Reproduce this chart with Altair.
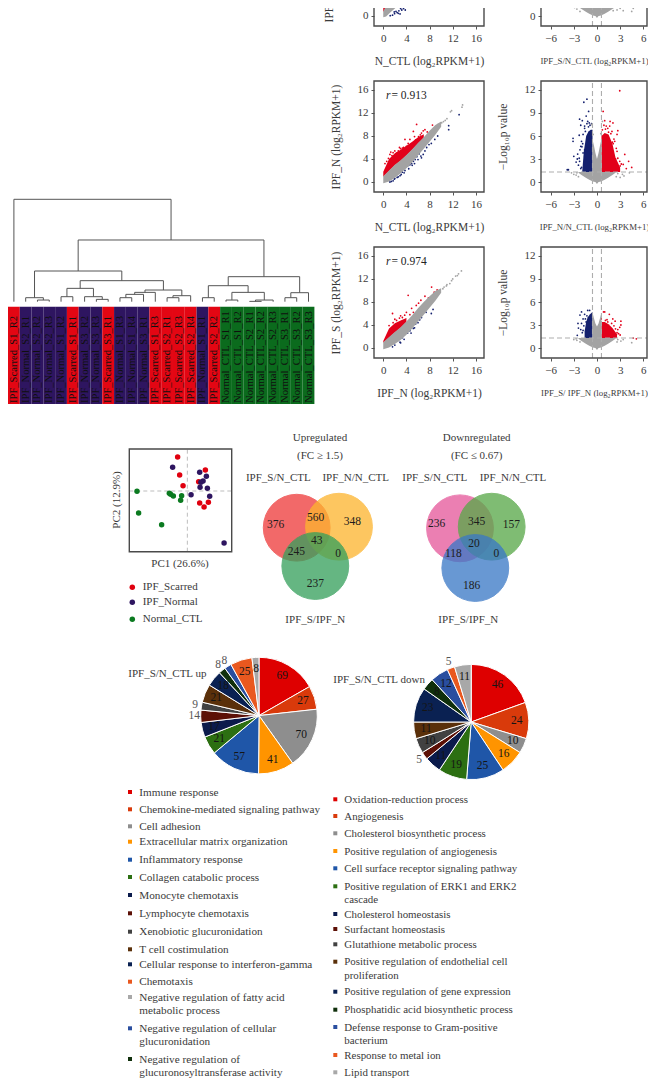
import math
import altair as alt
import pandas as pd

W, H = 640, 1071
FONT = "Liberation Serif"
INK = "#3a3a3a"

# ---------- dendrogram and sample strip ----------
sample_labels = ["IPF_Scarred_S1_R2", "IPF_Normal_S2_R1", "IPF_Normal_S2_R2", "IPF_Normal_S2_R3", "IPF_Normal_S1_R2",
                 "IPF_Scarred_S1_R1", "IPF_Normal_S3_R2", "IPF_Normal_S3_R3", "IPF_Scarred_S3_R1", "IPF_Normal_S1_R3",
                 "IPF_Normal_S1_R4", "IPF_Normal_S3_R1", "IPF_Scarred_S1_R3", "IPF_Scarred_S2_R1", "IPF_Scarred_S2_R3",
                 "IPF_Scarred_S2_R4", "IPF_Normal_S1_R1", "IPF_Scarred_S2_R2", "Normal_CTL_S1_R1", "Normal_CTL_S1_R2",
                 "Normal_CTL_S2_R1", "Normal_CTL_S2_R2", "Normal_CTL_S2_R3", "Normal_CTL_S3_R1", "Normal_CTL_S3_R2",
                 "Normal_CTL_S3_R3"]
group_names = ["IPF_Scarred", "IPF_Normal", "Normal_CTL"]
group_colors = ["#e30613", "#2e1560", "#0b6b1d"]
# merge height, left child, right child (leaves are sample positions)
tree = (307, 0, (185,
        (92, (12, 1, (5, 2, 3)),
             (63, (40, (15, 4, 5), (15, 6, (7, 7, 8))),
                  (35, (28, (22, (12, 9, 10), 11), 12), (18, (12, 13, 14), 15)))),
        (75, (48, (12, 16, 17), (28, (5, 18, 19), (5, (1, 20, 21), 22))),
             (27, (12, 23, 24), 25))))


def walk(node, segs):
    if isinstance(node, int):
        return float(node), 0
    h, a, b = node
    xa, ha = walk(a, segs)
    xb, hb = walk(b, segs)
    segs += [(xa, xb, h, h), (xa, xa, ha, h), (xb, xb, hb, h)]
    return (xa + xb) / 2, h


dendro = []
walk(tree, dendro)
dendro_df = pd.DataFrame(dendro, columns=["x0", "x1", "y0", "y1"])
leaf_scale = alt.Scale(domain=[0, 25], range=[5.9, 300.5], nice=False, zero=False)
height_scale = alt.Scale(domain=[0, 307], range=[293.7, 191.3], nice=False, zero=False)
dendro_chart = alt.Chart(dendro_df).mark_rule(color="#555555", strokeWidth=1).encode(
    x=alt.X("x0:Q", scale=leaf_scale, axis=None), x2="x1:Q",
    y=alt.Y("y0:Q", scale=height_scale, axis=None), y2="y1:Q")

strip_df = pd.DataFrame({"label": sample_labels, "group": [s[:-6] for s in sample_labels]})
band = alt.Scale(type="band", domain=sample_labels, range=[0, 306.4], paddingInner=0, paddingOuter=0)
strip_rect = alt.Chart(strip_df).mark_rect().encode(
    x=alt.X("label:N", scale=band, axis=None, sort=sample_labels),
    y=alt.value(306.7 - 8), y2=alt.value(404 - 8),
    color=alt.Color("group:N", scale=alt.Scale(domain=group_names, range=group_colors), legend=None))
strip_text = alt.Chart(strip_df).mark_text(angle=270, align="left", baseline="middle", font=FONT, fontSize=10.6,
                                           color="#10100f").encode(
    x=alt.X("label:N", scale=band, axis=None, sort=sample_labels), y=alt.value(403 - 8), text="label:N")
strip_panel = alt.layer(strip_rect, strip_text)

# ---------- scatter panels ----------
sc_x = [0, 1, 2, 3, 4, 5, 6, 7, 8, 9, 10]

row1_sc = dict(
    x=[0, 0.5, 1.2, 2, 3.2, 4.5], low=[-0.2, -0.1, 0.6, 1.3, 2.5, 3.8], up=[0.8, 1.8, 2.8, 3.6, 4.9, 6.0],
    red_x=[0, 0.7, 1.2, 2, 3.2, 4.5], red_up=[3.5, 4.5, 5.5, 6.2, 7.2, 8.0],
    red_px=[0.1, 0.2], red_py=[3.0, 3.2],
    blue_px=[1.95, 2.6, 3.2, 4.0, 5.0, 4.6, 3.8, 2.9, 3.5, 1.2, 1.6, 2.2, 4.3, 3.0, 2.4, 3.4, 1.9, 2.7, 4.1],
    blue_py=[0.4, 0.47, 1.04, 1.6, 2.2, 1.9, 1.04, 0.35, 1.3, 0.05, 0.15, 0.8, 2.0, 1.3, 0.6, 1.6, 0.7, 0.9, 2.2],
    gray_px=[], gray_py=[])
row2_sc = dict(
    x=sc_x, low=[-0.2, 0.1, 0.7, 1.5, 2.4, 3.4, 4.6, 5.8, 7.0, 8.2, 9.6], up=[1.0, 2.0, 3.0, 3.8, 4.7, 5.7, 6.8, 7.8, 8.9, 9.9, 10.5],
    red_x=[0, 1, 2, 3, 4, 5, 6, 7], red_up=[1.8, 4.0, 5.0, 5.6, 6.3, 7.0, 7.8, 8.3],
    red_px=[5.76, 6.6, 5.2, 3.75, 7.2, 6.9, 1.7, 2.0, 1.15, 0.3, 4.9, 3.5, 2.6, 3.0, 0.9, 1.5, 2.3, 4.3, 4.0, 5.6, 6.1, 7.6, 8.5, 0.6, 1.3, 2.8, 3.3, 4.6, 5.4, 6.4],
    red_py=[10.0, 8.5, 8.8, 7.4, 9.1, 8.9, 5.1, 5.4, 4.8, 3.2, 6.5, 6.0, 5.4, 5.8, 4.1, 4.6, 5.0, 6.7, 6.2, 7.3, 7.9, 8.7, 9.9, 3.6, 5.2, 6.0, 5.9, 7.4, 7.9, 8.2],
    blue_px=[13.1, 11.3, 11.3, 8.9, 7.5, 6.9, 6.6, 5.2, 4.6, 3.75, 2.9, 1.7, 1.15, 5.8, 6.2, 4.9, 4.2, 3.3, 2.4, 2.0, 7.9, 8.3, 9.4, 5.5, 1.4, 1.9, 2.6, 3.1, 3.6, 4.4, 5.0, 5.4, 6.0, 6.5, 7.2],
    blue_py=[11.7, 9.8, 9.1, 7.4, 6.0, 4.8, 4.2, 3.6, 3.0, 2.0, 1.1, 0.2, 0.0, 4.4, 4.9, 3.2, 2.8, 1.7, 0.8, 0.6, 6.5, 6.7, 8.0, 3.9, 0.1, 0.5, 0.9, 1.3, 1.6, 2.3, 2.9, 3.2, 3.9, 4.5, 5.4],
    gray_px=[13.7, 13.6, 11.8, 11.6, 10.7, 10.1, 10.4, 11.0, 9.5],
    gray_py=[13.4, 13.0, 12.4, 12.2, 10.7, 10.3, 10.5, 11.0, 10.0])
row3_sc = dict(
    x=sc_x, low=[-0.2, 0.1, 0.7, 1.4, 2.3, 3.4, 4.6, 5.8, 7.0, 8.2, 9.6], up=[1.0, 1.9, 2.8, 3.6, 4.6, 5.7, 6.9, 8.0, 9.0, 9.9, 10.4],
    red_x=[0, 1, 2, 3, 4], red_up=[1.2, 3.4, 4.3, 4.8, 5.2],
    red_px=[4.3, 7.2, 8.35, 8.8, 9.3, 6.5, 5.7, 4.9, 4.0, 3.3, 1.6, 2.3, 2.8, 3.7, 5.2, 1.7, 1.0, 2.0, 6.1, 7.8, 4.6, 3.0],
    red_py=[9.15, 9.0, 10.6, 9.7, 10.1, 8.3, 7.4, 6.9, 6.2, 5.3, 6.0, 4.8, 5.2, 5.7, 6.2, 4.4, 3.9, 5.0, 7.8, 8.7, 5.8, 5.6],
    blue_px=[8.6, 8.3, 6.3, 5.2, 3.75, 2.9, 2.0, 4.6, 5.6, 6.6, 3.3, 4.2, 7.4, 2.5, 1.6, 3.0, 3.6, 4.8, 5.4, 6.0],
    blue_py=[6.7, 6.0, 4.9, 3.4, 2.5, 1.0, 0.5, 3.0, 4.2, 5.3, 1.8, 2.6, 6.2, 1.3, 0.2, 0.9, 1.5, 2.6, 3.5, 4.4],
    gray_px=[10.5, 11.0, 11.5, 12.0, 12.5, 13.0, 13.5, 10.3, 11.8, 12.8, 10.9],
    gray_py=[10.6, 11.0, 11.2, 12.0, 12.5, 12.9, 13.4, 10.3, 11.7, 12.6, 10.8])

vo_gray_x = [-2.4, -2, -1.5, -1, -0.59, -0.58, -0.4, -0.2, 0, 0.2, 0.4, 0.58, 0.59, 1, 1.5, 2, 2.4]
row1_vo = dict(
    gx=vo_gray_x, glow=[1.2, 0.9, 0.6, 0.3, 0.1, 0.1, 0.05, 0, -0.25, 0, 0.05, 0.1, 0.1, 0.3, 0.6, 0.9, 1.2],
    gup=[1.3, 1.3, 1.3, 1.3, 1.3, 4.0, 3.4, 3.0, 2.8, 3.0, 3.4, 4.0, 1.3, 1.3, 1.3, 1.3, 1.3],
    bx=[-1.8, -1.3, -0.9, -0.58], bup=[1.6, 2.4, 3.0, 3.4], rx=[0.58, 1.0, 1.5, 2.1], rup=[3.4, 3.0, 2.4, 1.7],
    blue_px=[-4.6, -4.3, -3.0, -2.6], blue_py=[2.3, 2.3, 2.5, 2.0], red_px=[2.6, 3.2, 3.4], red_py=[1.8, 2.1, 2.2],
    gray_px=[-2.6, -2.2, 2.1, 2.6, 3.4, 4.5, 4.7, 3.0, -2.9, -2.5, 2.9], gray_py=[0.9, 0.6, 0.7, 0.8, 0.7, 0.6, 1.0, 1.0, 1.1, 1.2, 1.2])
row2_vo = dict(
    gx=vo_gray_x, glow=[1.2, 0.9, 0.6, 0.3, 0.1, 0.1, 0.05, 0, -0.25, 0, 0.05, 0.1, 0.1, 0.3, 0.6, 0.9, 1.2],
    gup=[1.3, 1.3, 1.3, 1.3, 1.3, 5.5, 4.8, 3.8, 3.0, 3.8, 4.8, 5.5, 1.3, 1.3, 1.3, 1.3, 1.3],
    bx=[-1.9, -1.7, -1.4, -1.1, -0.8, -0.58], bup=[1.5, 4.0, 6.0, 6.6, 6.8, 6.8], rx=[0.58, 1.0, 1.5, 2.0, 2.4, 3.0], rup=[6.0, 6.4, 6.2, 5.0, 3.2, 1.9],
    blue_px=[-1.3, -1.7, -1.08, -1.4, -2.25, -1.9, -1.2, -2.1, -1.6, -3.1, -3.1, -2.3, -1.8, -2.0, -2.1, -2.5, -2.55, -3.0, -2.0, -3.85, -3.7, -2.25, -1.7, -2.1, -1.6, -1.8, -1.5, -1.5, -1.1, -0.9, -2.2, -2.4, -1.95, -2.7, -1.85, -2.3, -1.6, -1.3, -1.0, -0.7],
    blue_py=[10.8, 10.4, 9.2, 8.6, 8.2, 8.0, 7.9, 7.4, 7.3, 5.7, 5.3, 6.1, 6.2, 5.3, 4.65, 3.65, 3.0, 3.35, 1.9, 1.6, 1.6, 2.7, 2.2, 1.75, 4.2, 3.8, 2.9, 6.6, 7.2, 7.4, 4.2, 2.2, 4.6, 2.6, 5.0, 3.1, 7.0, 7.6, 7.7, 7.6],
    red_px=[2.95, 0.8, 1.0, 1.7, 2.07, 1.2, 2.7, 2.6, 1.94, 2.3, 2.5, 2.07, 3.6, 2.7, 4.1, 3.15, 4.5, 3.8, 2.5, 2.95, 1.65, 1.4, 0.9, 2.1, 2.4, 1.8, 2.2, 2.6, 3.0, 3.4, 1.1, 0.7, 1.5, 2.0],
    red_py=[11.9, 9.2, 8.0, 7.9, 7.7, 7.3, 6.7, 6.2, 6.6, 5.3, 4.4, 3.8, 3.6, 3.1, 2.7, 2.35, 1.9, 1.75, 1.8, 2.7, 7.3, 7.0, 7.4, 5.0, 3.0, 6.3, 5.6, 4.0, 2.1, 2.3, 6.9, 6.8, 6.5, 5.2],
    gray_px=[-3.0, -2.7, -2.4, 2.5, 3.0, 3.3, 4.2, -0.5, 0.5, -0.7, 0.7, -2.6, 2.7, -3.3, 3.5], gray_py=[1.0, 0.9, 0.7, 0.7, 0.6, 1.0, 1.2, 6.2, 6.3, 7.5, 7.9, 1.2, 1.1, 1.2, 0.8])
row3_vo = dict(
    gx=vo_gray_x, glow=[1.2, 0.9, 0.6, 0.3, 0.1, 0.1, 0.05, 0, -0.25, 0, 0.05, 0.1, 0.1, 0.3, 0.6, 0.9, 1.2],
    gup=[1.3, 1.3, 1.3, 1.3, 1.3, 4.6, 3.9, 3.2, 2.8, 3.2, 3.9, 4.6, 1.3, 1.3, 1.3, 1.3, 1.3],
    bx=[-1.6, -1.4, -1.2, -0.9, -0.58], bup=[2.2, 3.4, 4.0, 4.4, 4.7], rx=[0.58, 1.0, 1.5, 2.0, 2.6], rup=[3.4, 3.4, 3.1, 2.6, 1.8],
    blue_px=[-2.0, -2.2, -2.46, -2.0, -2.55, -1.8, -1.6, -0.95, -1.2, -1.4, -2.1, -1.8, -1.7, -2.4, -1.9, -1.5, -1.3],
    blue_py=[4.7, 4.3, 3.2, 3.2, 1.65, 3.8, 4.4, 4.9, 4.9, 3.4, 2.4, 2.3, 2.9, 2.6, 2.0, 3.8, 4.2],
    red_px=[0.85, 1.0, 1.6, 2.05, 2.35, 3.1, 3.1, 2.95, 2.7, 4.7, 5.1, 2.8, 0.55, 1.3, 2.6, 2.2, 3.0, 1.9, 2.4, 1.4, 1.1],
    red_py=[4.7, 4.7, 4.4, 3.8, 3.5, 3.5, 3.0, 2.7, 2.4, 1.3, 1.2, 1.87, 3.8, 3.7, 2.0, 2.9, 1.7, 3.2, 2.5, 3.4, 3.6],
    gray_px=[-2.6, -2.2, -1.7, 2.6, 3.1, 4.5, -3.0, -2.7, 2.7, 3.4], gray_py=[1.0, 0.8, 1.0, 0.8, 0.9, 0.7, 1.1, 1.2, 1.1, 1.1])

RED, BLUE, GRAY = "#e2001a", "#14206e", "#a3a3a3"
LOG2 = "(log₂RPKM+1)"


def axis(orient, orient_offset, values, title, padding, title_size=11.5, label_expr=None):
    kw = dict(orient=orient, values=values, title=title, grid=False, domain=False, offset=orient_offset, tickSize=3, tickColor="#555555",
              labelFont=FONT, labelFontSize=11, labelColor=INK, labelPadding=3, titleFont=FONT,
              titleFontSize=title_size, titleFontWeight="normal", titleColor=INK, titlePadding=padding, labelOverlap=False)
    if label_expr:
        kw["labelExpr"] = label_expr
    return alt.Axis(**kw)


def points(xs, ys, color, sx, sy):
    return alt.Chart(pd.DataFrame({"x": xs, "y": ys})).mark_circle(size=3.2, color=color, opacity=1).encode(
        x=alt.X("x:Q", scale=sx, axis=None), y=alt.Y("y:Q", scale=sy, axis=None))


def band_area(xs, lo, hi, color, sx, sy):
    return alt.Chart(pd.DataFrame({"x": xs, "lo": lo, "hi": hi})).mark_area(color=color, orient="vertical", opacity=1).encode(
        x=alt.X("x:Q", scale=sx, axis=None), y=alt.Y("lo:Q", scale=sy, axis=None), y2="hi:Q")


def frame(left, right, top, bottom):
    return alt.Chart(pd.DataFrame({"a": [0]})).mark_rect(fillOpacity=0, stroke="#4a4a4a", strokeWidth=1.4).encode(
        x=alt.value(left - 8), x2=alt.value(right - 8), y=alt.value(top - 8), y2=alt.value(bottom - 8))


def scatter_panel(d, top, xtitle, ytitle, r_text, y_ticks):
    bottom = top + 111
    left, right = 374, 484
    sx = alt.Scale(domain=[-1.6, 17.4], range=[left - 8, right - 8], nice=False, zero=False)
    sy = alt.Scale(domain=[-1.74, 17.56], range=[bottom - 8, top - 8], nice=False, zero=False)
    base = alt.Chart(pd.DataFrame({"x": [0, 16], "y": [0, 16]})).mark_point(opacity=0).encode(
        x=alt.X("x:Q", scale=sx, axis=axis("bottom", bottom - 8 - H, [0, 4, 8, 12, 16], xtitle, 12)),
        y=alt.Y("y:Q", scale=sy, axis=axis("left", -(left - 8), y_ticks, ytitle, 16 if len(y_ticks) > 1 else 28)))
    floor = d["up"][:len(d["red_x"])]
    layers = [base,
              points(d["blue_px"], d["blue_py"], BLUE, sx, sy),
              band_area(d["red_x"], [u - 0.1 for u in floor], d["red_up"], RED, sx, sy),
              points(d["red_px"], d["red_py"], RED, sx, sy),
              band_area(d["x"], d["low"], d["up"], GRAY, sx, sy),
              points(d["gray_px"], d["gray_py"], GRAY, sx, sy),
              frame(left, right, top, bottom)]
    if r_text:
        layers.append(alt.Chart(pd.DataFrame({"t": ["r"]})).mark_text(font=FONT, fontSize=11.5, fontStyle="italic", color="#222222", align="left").encode(
            x=alt.value(386 - 8), y=alt.value(top + 15 - 8), text="t:N"))
        layers.append(alt.Chart(pd.DataFrame({"t": ["= " + r_text]})).mark_text(font=FONT, fontSize=11.5, color="#222222", align="left").encode(
            x=alt.value(391.5 - 8), y=alt.value(top + 15 - 8), text="t:N"))
    return layers


def volcano_panel(d, top, xtitle, y_ticks, ytitle):
    bottom = top + 111
    left, right = 541, 647
    x_max = 6.48
    sx = alt.Scale(domain=[-7.25, x_max], range=[left - 8, right - 8], nice=False, zero=False)
    sy = alt.Scale(domain=[-1.3, 13.17], range=[bottom - 8, top - 8], nice=False, zero=False)
    base = alt.Chart(pd.DataFrame({"x": [-6, 6], "y": [0, 12]})).mark_point(opacity=0).encode(
        x=alt.X("x:Q", scale=sx, axis=axis("bottom", bottom - 8 - H, [-6, -3, 0, 3, 6], xtitle, 13, 8.8, "replace(datum.label, '-', '−')")),
        y=alt.Y("y:Q", scale=sy, axis=axis("left", -(left - 8), y_ticks, ytitle, 16)))
    cuts = alt.Chart(pd.DataFrame({"x0": [-0.58, 0.58, -7.25], "x1": [-0.58, 0.58, x_max], "y0": [-1.3, -1.3, 1.3], "y1": [13.17, 13.17, 1.3]})).mark_rule(
        color="#adadad", strokeWidth=1.1, strokeDash=[5, 3]).encode(
        x=alt.X("x0:Q", scale=sx, axis=None), x2="x1:Q", y=alt.Y("y0:Q", scale=sy, axis=None), y2="y1:Q")
    return [base,
            band_area(d["bx"], [1.3] * len(d["bx"]), d["bup"], BLUE, sx, sy),
            points(d["blue_px"], d["blue_py"], BLUE, sx, sy),
            band_area(d["rx"], [1.3] * len(d["rx"]), d["rup"], RED, sx, sy),
            points(d["red_px"], d["red_py"], RED, sx, sy),
            band_area(d["gx"], d["glow"], d["gup"], GRAY, sx, sy),
            points(d["gray_px"], d["gray_py"], GRAY, sx, sy),
            cuts, frame(left, right, top, bottom)]


# ---------- PCA ----------
pca_group = ["IPF_Scarred"] * 8 + ["IPF_Normal"] * 10 + ["Normal_CTL"] * 8
pca_pc1 = [-9.7, 18, -7.7, 11.3, -4.3, 12.3, 21, 16.7,
           -14.7, 12.3, 19, 15.7, 12.7, 20, 22.3, 3.7, 36.7, 13.5,
           -50.3, -18, -16.7, -14, -5.7, -6.7, -48.7, -25.7]
pca_pc2 = [34, 21, 16, 9.3, 5.3, -12, -11.3, -16,
           23.7, 18.7, 14.7, 10, 3.7, 2.7, -5.3, -3.7, -52, 8.7,
           -0.3, -2.3, -3.3, -5, -4.7, -9.3, -22, -33.7]
pca_df = pd.DataFrame({"g": pca_group, "pc1": pca_pc1, "pc2": pca_pc2})
pca_sx = alt.Scale(domain=[-58, 44.3], range=[129.3 - 8, 231.7 - 8], nice=False, zero=False)
pca_sy = alt.Scale(domain=[-60.7, 42], range=[551.7 - 8, 449 - 8], nice=False, zero=False)
group_scale = alt.Scale(domain=group_names, range=["#e0000f", "#2e1560", "#0b7a20"])
pca_cuts = alt.Chart(pd.DataFrame({"x0": [0, -58], "x1": [0, 44.3], "y0": [-60.7, 0], "y1": [42, 0]})).mark_rule(
    color="#bdbdbd", strokeWidth=1, strokeDash=[4, 3]).encode(
    x=alt.X("x0:Q", scale=pca_sx, axis=None), x2="x1:Q", y=alt.Y("y0:Q", scale=pca_sy, axis=None), y2="y1:Q")
pca_pts = alt.Chart(pca_df).mark_circle(size=30, opacity=1).encode(
    x=alt.X("pc1:Q", scale=pca_sx, axis=None), y=alt.Y("pc2:Q", scale=pca_sy, axis=None),
    color=alt.Color("g:N", scale=group_scale, legend=None))
pca_panel = alt.layer(pca_cuts, pca_pts, frame(129.3, 231.7, 449, 551.7))
pca_legend_y = [587.3 - 8, 602.3 - 8, 619.3 - 8]
pca_legend_df = pd.DataFrame({"g": group_names, "y": pca_legend_y})
pca_legend = alt.layer(
    alt.Chart(pca_legend_df).mark_circle(size=30, opacity=1).encode(
        x=alt.value(132.3 - 8), y=alt.Y("y:Q", scale=None, axis=None),
        color=alt.Color("g:N", scale=group_scale, legend=None)),
    alt.Chart(pca_legend_df).mark_text(font=FONT, fontSize=11, color=INK, align="left").encode(
        x=alt.value(142.7 - 8), y=alt.Y("y:Q", scale=None, axis=None), text="g:N"))

# ---------- Venn diagrams ----------
venn_sets = ["IPF_S/N_CTL", "IPF_N/N_CTL", "IPF_S/IPF_N"]
venn_up_counts = [376, 560, 348, 245, 43, 0, 237]
venn_down_counts = [236, 345, 157, 118, 20, 0, 186]
venn_up_cx, venn_up_cy = [196.7, 239, 215.3], [102.7, 101.7, 141]
venn_down_cx, venn_down_cy = [360, 391.7, 375.3], [103.3, 101.7, 143]
venn_up_lx = [175.7, 215.7, 252.3, 196.3, 216.7, 238, 215.3]
venn_up_ly = [100.3, 93, 97, 127, 116.3, 129, 159]
venn_down_lx = [336.7, 376.7, 411.3, 353.3, 374, 396.3, 371.7]
venn_down_ly = [98.7, 97, 100.3, 129, 119, 129, 161.3]
venn_size = math.pi * 37.7 ** 2
venn_sx = alt.Scale(domain=[0, 500], range=[92, 592], nice=False, zero=False)
venn_sy = alt.Scale(domain=[0, 200], range=[417, 617], nice=False, zero=False)


def venn(cx, cy, colors, lx, ly, counts):
    circ = alt.Chart(pd.DataFrame({"s": venn_sets, "x": cx, "y": cy})).mark_circle(size=venn_size, opacity=0.76, strokeWidth=1).encode(
        x=alt.X("x:Q", scale=venn_sx, axis=None), y=alt.Y("y:Q", scale=venn_sy, axis=None),
        color=alt.Color("s:N", scale=alt.Scale(domain=venn_sets, range=colors), legend=None),
        stroke=alt.Color("s:N", scale=alt.Scale(domain=venn_sets, range=colors), legend=None))
    txt = alt.Chart(pd.DataFrame({"x": lx, "y": ly, "t": counts})).mark_text(font=FONT, fontSize=11.5, color="#1c1c1c").encode(
        x=alt.X("x:Q", scale=venn_sx, axis=None), y=alt.Y("y:Q", scale=venn_sy, axis=None), text="t:Q")
    return alt.layer(circ, txt)


venn_up = venn(venn_up_cx, venn_up_cy, ["#ee3b3b", "#fdb52f", "#35a05c"], venn_up_lx, venn_up_ly, venn_up_counts)
venn_down = venn(venn_down_cx, venn_down_cy, ["#e6589b", "#58a848", "#3a78c6"], venn_down_lx, venn_down_ly, venn_down_counts)

# ---------- pies and their keys ----------
up_terms = ["Immune response", "Chemokine-mediated signaling pathway", "Cell adhesion", "Extracellular matrix organization",
            "Inflammatory response", "Collagen catabolic process", "Monocyte chemotaxis", "Lymphocyte chemotaxis",
            "Xenobiotic glucuronidation", "T cell costimulation", "Cellular response to interferon-gamma", "Chemotaxis",
            "Negative regulation of fatty acid\nmetabolic process", "Negative regulation of cellular\nglucuronidation",
            "Negative regulation of\nglucuronosyltransferase activity"]
up_counts = [69, 27, 70, 41, 57, 21, 17, 14, 9, 21, 18, 8, 8, 25, 8]
up_outside = [7, 8, 11, 12]
down_terms = ["Oxidation-reduction process", "Angiogenesis", "Cholesterol biosynthetic process", "Positive regulation of angiogenesis",
              "Cell surface receptor signaling pathway", "Positive regulation of ERK1 and ERK2\ncascade", "Cholesterol homeostasis",
              "Surfactant homeostasis", "Glutathione metabolic process", "Positive regulation of endothelial cell\nproliferation",
              "Positive regulation of gene expression", "Phosphatidic acid biosynthetic process",
              "Defense response to Gram-positive\nbacterium", "Response to metal ion", "Lipid transport"]
down_counts = [46, 24, 10, 16, 25, 19, 11, 5, 10, 11, 23, 8, 12, 5, 11]
down_outside = [7, 13]
key_palette = ["#de0000", "#d93a0b", "#8e8e8e", "#ff9400", "#1f56a8", "#2c6f12", "#0b1b4c", "#5c1006", "#414141", "#5a300a",
               "#0a2152", "#e9581f", "#a8a8a8", "#2a4e9f", "#10300c"]
slice_palette = key_palette[:11] + ["#10300c", "#2a4e9f", "#e9581f", "#a8a8a8"]
up_key_y = [792, 809.3, 826.3, 841.7, 859.7, 877, 895, 913.3, 931.7, 949.3, 964.3, 981.7, 997, 1028.3, 1059]
down_key_y = [799.3, 816, 833.3, 851, 868.3, 886.3, 914, 929, 944.3, 961.7, 991.7, 1009.7, 1027, 1055, 1072.3]


def pie(counts, cx, cy, r, outside):
    total = sum(counts)
    idx = list(range(len(counts)))
    df = pd.DataFrame({"i": idx, "v": counts, "out": [i in outside for i in idx]})
    th = alt.Scale(domain=[0, total], range=[0, 2 * math.pi])
    arcs = alt.Chart(df).mark_arc(outerRadius=r, stroke="white", strokeWidth=1).encode(
        x=alt.value(cx - 8), y=alt.value(cy - 8),
        theta=alt.Theta("v:Q", stack=True, scale=th), order=alt.Order("i:Q"),
        color=alt.Color("i:O", scale=alt.Scale(domain=idx, range=slice_palette), legend=None))

    def labels(flag, rad, col):
        return alt.Chart(df).transform_window(cum="sum(v)", sort=[alt.SortField("i")]).transform_calculate(
            mid="datum.cum - datum.v / 2").transform_filter(f"datum.out == {flag}").mark_text(
            radius=rad, font=FONT, fontSize=11.5, color=col).encode(
            x=alt.value(cx - 8), y=alt.value(cy - 8),
            theta=alt.Theta("mid:Q", stack=None, scale=th), text="v:Q")

    return alt.layer(arcs, labels("false", r - 12, "#151515"), labels("true", r + 6.5, "#555555"))


def key(terms, ys, sq_x, text_x, colors, font_size):
    idx = list(range(len(terms)))
    df = pd.DataFrame({"i": idx, "t": terms, "y": [v - 8 for v in ys]})
    squares = alt.Chart(df).mark_square(size=16, opacity=1).encode(
        x=alt.value(sq_x - 8), y=alt.Y("y:Q", scale=None, axis=None),
        color=alt.Color("i:O", scale=alt.Scale(domain=idx, range=colors), legend=None))
    text = alt.Chart(df).mark_text(font=FONT, fontSize=font_size, color=INK, align="left", baseline="alphabetic", dy=3.5,
                                   lineBreak="\n", lineHeight=13.4).encode(
        x=alt.value(text_x - 8), y=alt.Y("y:Q", scale=None, axis=None), text="t:N")
    return alt.layer(squares, text)


# ---------- free-standing captions ----------
caption_text = ["PC1 (26.6%)", "Upregulated", "(FC ≥ 1.5)", "IPF_S/N_CTL", "IPF_N/N_CTL", "IPF_S/IPF_N",
                "Downregulated", "(FC ≤ 0.67)", "IPF_S/N_CTL", "IPF_N/N_CTL", "IPF_S/IPF_N"]
caption_x = [180, 320, 320, 278.3, 355.7, 315.3, 476.7, 476.7, 434.7, 513, 468.3]
caption_y = [563.7, 438.3, 456.3, 478.3, 478.3, 619.7, 438.3, 456.3, 478.3, 478.3, 619.7]
captions = alt.Chart(pd.DataFrame({"t": caption_text, "x": [v - 8 for v in caption_x], "y": [v - 8 for v in caption_y]})).mark_text(
    font=FONT, fontSize=11, color=INK).encode(
    x=alt.X("x:Q", scale=None, axis=None), y=alt.Y("y:Q", scale=None, axis=None), text="t:N")
pc2_label = alt.Chart(pd.DataFrame({"t": ["PC2 (12.9%)"]})).mark_text(font=FONT, fontSize=11, color=INK, angle=270).encode(
    x=alt.value(117.3 - 8), y=alt.value(500 - 8), text="t:N")
pie_titles = alt.Chart(pd.DataFrame({"t": ["IPF_S/N_CTL up", "IPF_S/N_CTL down"], "x": [120.3, 325.3], "y": [666.3, 672]})).mark_text(
    font=FONT, fontSize=11, color=INK, align="left").encode(
    x=alt.X("x:Q", scale=None, axis=None), y=alt.Y("y:Q", scale=None, axis=None), text="t:N")

LOG_P = "−Log₁₀p value"
sc_ticks = [0, 4, 8, 12, 16]
vo_ticks = [0, 3, 6, 9, 12]
panels = [dendro_chart, strip_panel]
panels += scatter_panel(row1_sc, -85, "N_CTL " + LOG2, "IPF_S " + LOG2, None, [0])
panels += volcano_panel(row1_vo, -85, "IPF_S/N_CTL " + LOG2, [0], None)
panels += scatter_panel(row2_sc, 81, "N_CTL " + LOG2, "IPF_N " + LOG2, "0.913", sc_ticks)
panels += volcano_panel(row2_vo, 81, "IPF_N/N_CTL " + LOG2, vo_ticks, LOG_P)
panels += scatter_panel(row3_sc, 247, "IPF_N " + LOG2, "IPF_S " + LOG2, "0.974", sc_ticks)
panels += volcano_panel(row3_vo, 247, "IPF_S/ IPF_N " + LOG2, vo_ticks, LOG_P)
panels += [pca_panel, pca_legend, venn_up, venn_down, captions, pc2_label,
           pie(up_counts, 259, 715.6, 58.3, up_outside),
           pie(down_counts, 471.2, 722, 57.6, down_outside),
           pie_titles,
           key(up_terms, up_key_y, 130, 139.3, key_palette, 11.2),
           key(down_terms, down_key_y, 335.3, 344.3, slice_palette, 10.9)]

chart = alt.layer(*panels).resolve_scale(
    x="independent", y="independent", color="independent", stroke="independent", theta="independent").properties(
    width=W, height=H, padding=0, autosize=alt.AutoSizeParams(type="none"), background="white").configure_view(stroke=None)

chart.save("out.html", embed_options={"renderer": "svg", "actions": False})
